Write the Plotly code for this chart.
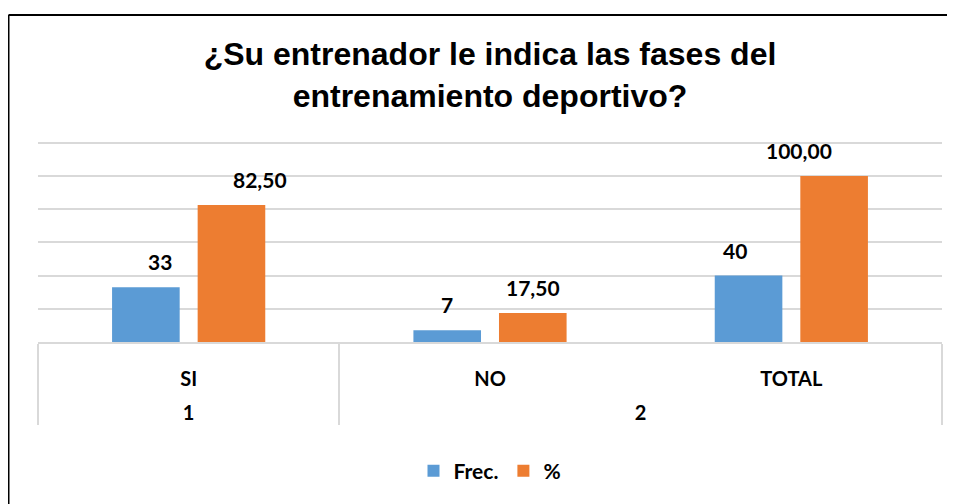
import plotly.graph_objects as go

groups = ["1", "2", "2"]
categories = ["SI", "NO", "TOTAL"]
frec = [33, 7, 40]
pct = [82.50, 17.50, 100.00]
y_ticks = [0, 20, 40, 60, 80, 100, 120]

BLUE = "#5b9bd5"
ORANGE = "#ed7d31"
GRID = "#d9d9d9"
LABEL_FONT = {"family": "Lato, Calibri, sans-serif", "size": 21, "color": "#000000", "weight": "bold"}
TITLE_FONT = {"family": "Liberation Sans, Arial, sans-serif", "size": 32, "color": "#000000", "weight": "bold"}

BARGAP = 0.432
BARGROUPGAP = 0.21

# the page adds an 8px body margin, so the figure is 8px smaller than the window
W, H = 947, 496
L, R, T, B = 30, 13, 133, 162
PW, PH = W - L - R, H - T - B


def fmt_pct(v: float) -> str:
    return f"{v:.2f}".replace(".", ",")


def px_x(fx):
    return (fx - L) / PW


def px_y(fy):
    return (H - B - fy) / PH


# outer label row sits one blank line below the inner row
x_levels = [["<br>" + g for g in groups], categories]

fig = go.Figure()
fig.add_trace(go.Bar(name="Frec.", x=x_levels, y=frec, marker_color=BLUE, marker_line_width=0))
fig.add_trace(go.Bar(name="%", x=x_levels, y=pct, marker_color=ORANGE, marker_line_width=0))

# data labels above the bars
n = len(categories)
off = (1 - BARGAP) / 4
annotations = []
for i in range(n):
    for val, txt, sign in ((frec[i], str(frec[i]), -1), (pct[i], fmt_pct(pct[i]), 1)):
        annotations.append(dict(
            x=(i + 0.5 + sign * off) / n, xref="paper", y=val, yref="y",
            text=txt, showarrow=False, yanchor="bottom", yshift=11, font=LABEL_FONT,
        ))

# outer frame of the chart (left and top edges)
frame = {"color": "#000000", "width": 2}
shapes = [
    dict(type="line", xref="paper", yref="paper", x0=px_x(0.5), x1=px_x(0.5), y0=px_y(H + 10), y1=px_y(7),
         line=frame),
    dict(type="line", xref="paper", yref="paper", x0=px_x(0.5), x1=px_x(W + 10), y0=px_y(7), y1=px_y(7),
         line=frame),
]

fig.update_layout(
    width=W,
    height=H,
    paper_bgcolor="#ffffff",
    plot_bgcolor="#ffffff",
    margin={"l": L, "r": R, "t": T, "b": B},
    barmode="group",
    bargap=BARGAP,
    bargroupgap=BARGROUPGAP,
    title={
        "text": "¿Su entrenador le indica las fases del<br>entrenamiento deportivo?",
        "font": TITLE_FONT,
        "x": 0.5, "xref": "paper", "xanchor": "center",
        "y": 1 - 57 / H, "yref": "container", "yanchor": "middle",
    },
    xaxis={
        "type": "multicategory",
        "showline": True, "linecolor": GRID, "linewidth": 1.5,
        "showdividers": True, "dividercolor": GRID, "dividerwidth": 1.5,
        "tickfont": {"family": "Lato, Calibri, sans-serif", "size": 20, "color": "#000000", "weight": "bold"},
        "ticklabelstandoff": 18,
        "showgrid": False,
    },
    yaxis={
        "range": [0, 121],
        "tickvals": y_ticks,
        "showticklabels": False,
        "showgrid": True, "gridcolor": GRID, "gridwidth": 1.5,
        "zeroline": False,
    },
    legend={
        "orientation": "h", "x": 0.5, "xanchor": "center", "y": px_y(463), "yanchor": "middle",
        "font": {"family": "Lato, Calibri, sans-serif", "size": 21, "color": "#000000", "weight": "bold"},
        "itemwidth": 30,
    },
    annotations=annotations,
    shapes=shapes,
)

fig.write_html("out.html")
